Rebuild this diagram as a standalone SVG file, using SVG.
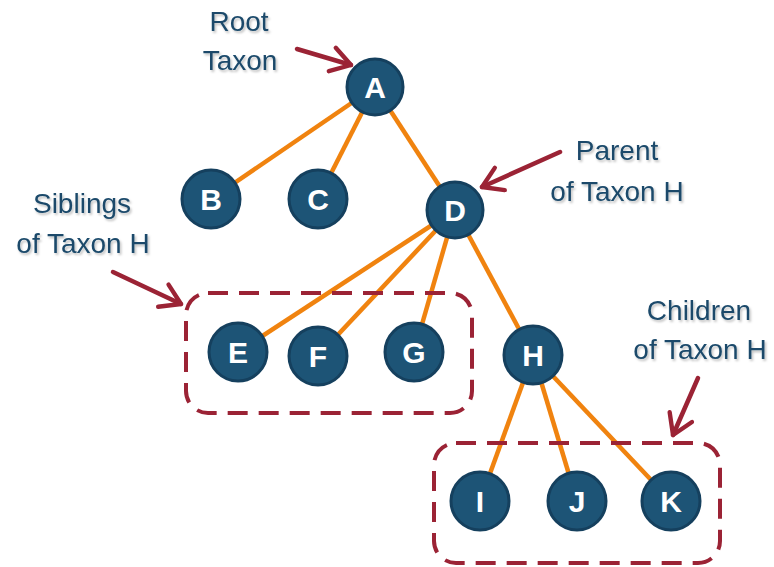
<svg xmlns="http://www.w3.org/2000/svg" width="774" height="567" viewBox="0 0 774 567">
<defs>
<filter id="sh" x="-10%" y="-10%" width="130%" height="140%">
<feDropShadow dx="1.5" dy="2" stdDeviation="1.2" flood-color="#000" flood-opacity="0.25"/>
</filter>
<marker id="ah" viewBox="0 0 12 12" refX="10" refY="6" markerWidth="6.5" markerHeight="6.5" orient="auto" markerUnits="strokeWidth">
<path d="M2,1 L10,6 L2,11" fill="none" stroke="#9B2335" stroke-width="1.8" stroke-linecap="round" stroke-linejoin="round"/>
</marker>
<style>
.node circle{fill:#1D5476;stroke:#15405E;stroke-width:3;}
.node text{fill:#fff;font-family:"Liberation Sans",Arial,sans-serif;font-weight:bold;font-size:30px;text-anchor:middle;}
.edge{stroke:#F0830F;stroke-width:4.5;fill:none;}
.lbl{fill:#1B4A6B;font-family:"Liberation Sans",Arial,sans-serif;font-size:28px;text-anchor:middle;filter:url(#sh);}
.arr{stroke:#9B2335;stroke-width:4.5;fill:none;stroke-linecap:round;marker-end:url(#ah);}
.box{fill:none;stroke:#9B2335;stroke-width:4;stroke-dasharray:20 11;}
</style>
</defs>
<g id="connectors">
<line class="edge" x1="375" y1="87" x2="211" y2="199"/>
<line class="edge" x1="375" y1="87" x2="318" y2="199"/>
<line class="edge" x1="375" y1="87" x2="455" y2="210"/>
<line class="edge" x1="455" y1="210" x2="238" y2="352"/>
<line class="edge" x1="455" y1="210" x2="318" y2="356"/>
<line class="edge" x1="455" y1="210" x2="414" y2="352"/>
<line class="edge" x1="455" y1="210" x2="533" y2="355"/>
<line class="edge" x1="533" y1="355" x2="480" y2="501"/>
<line class="edge" x1="533" y1="355" x2="577" y2="501"/>
<line class="edge" x1="533" y1="355" x2="671" y2="501"/>
</g>
<g id="groups">
<rect class="box" x="186" y="293" width="286" height="120" rx="22"/>
<rect class="box" x="434" y="443" width="286" height="120" rx="22"/>
</g>
<g id="arrows">
<line class="arr" x1="297" y1="49" x2="351" y2="65"/>
<line class="arr" x1="560" y1="152" x2="482" y2="187"/>
<line class="arr" x1="113" y1="272" x2="181" y2="304"/>
<line class="arr" x1="698" y1="378" x2="673" y2="435"/>
</g>
<g id="labels">
<text class="lbl" x="239" y="31">Root</text>
<text class="lbl" x="240" y="70">Taxon</text>
<text class="lbl" x="617" y="160">Parent</text>
<text class="lbl" x="617" y="201">of Taxon H</text>
<text class="lbl" x="82" y="213">Siblings</text>
<text class="lbl" x="83" y="253">of Taxon H</text>
<text class="lbl" x="699" y="320">Children</text>
<text class="lbl" x="700" y="359">of Taxon H</text>
</g>
<g id="node-A" class="node"><circle cx="375" cy="87" r="28"/><text x="375" y="98">A</text></g>
<g id="node-B" class="node"><circle cx="211" cy="199" r="29"/><text x="211" y="210">B</text></g>
<g id="node-C" class="node"><circle cx="318" cy="199" r="29"/><text x="318" y="210">C</text></g>
<g id="node-D" class="node"><circle cx="455" cy="210" r="28"/><text x="455" y="221">D</text></g>
<g id="node-E" class="node"><circle cx="238" cy="352" r="29"/><text x="238" y="363">E</text></g>
<g id="node-F" class="node"><circle cx="318" cy="356" r="29"/><text x="318" y="367">F</text></g>
<g id="node-G" class="node"><circle cx="414" cy="352" r="29"/><text x="414" y="363">G</text></g>
<g id="node-H" class="node"><circle cx="533" cy="355" r="29"/><text x="533" y="366">H</text></g>
<g id="node-I" class="node"><circle cx="480" cy="501" r="29"/><text x="480" y="512">I</text></g>
<g id="node-J" class="node"><circle cx="577" cy="501" r="29"/><text x="577" y="512">J</text></g>
<g id="node-K" class="node"><circle cx="671" cy="501" r="29"/><text x="671" y="512">K</text></g>
</svg>
